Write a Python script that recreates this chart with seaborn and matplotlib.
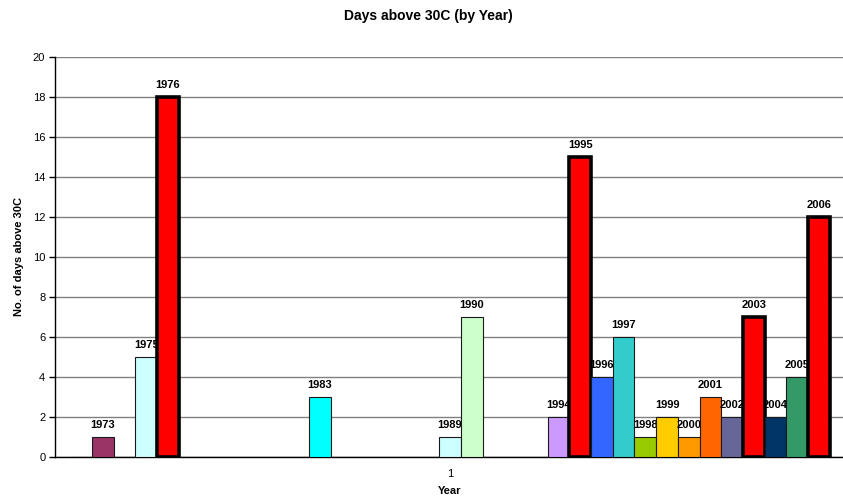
import matplotlib
matplotlib.use("Agg")
import matplotlib.pyplot as plt
import seaborn as sns
import pandas as pd

# Yearly counts of days above 30C, one series per year in a single category
years = [str(y) for y in range(1972, 2007)]
days = [0, 1, 0, 5, 18, 0, 0, 0, 0, 0, 0, 3, 0, 0, 0, 0, 0, 1, 7, 0,
        0, 0, 2, 15, 4, 6, 1, 2, 1, 3, 2, 7, 2, 4, 12]
category = ["1"] * len(years)

# Default spreadsheet series fill colours; the hottest summers are highlighted red
series_colors = ["#9999FF", "#993366", "#FFFFCC", "#CCFFFF", "#660066", "#FF8080",
                 "#0066CC", "#CCCCFF", "#000080", "#FF00FF", "#FFFF00", "#00FFFF",
                 "#800080", "#800000", "#008080", "#0000FF", "#00CCFF", "#CCFFFF",
                 "#CCFFCC", "#FFFF99", "#99CCFF", "#FF99CC", "#CC99FF", "#FFCC99",
                 "#3366FF", "#33CCCC", "#99CC00", "#FFCC00", "#FF9900", "#FF6600",
                 "#666699", "#969696", "#003366", "#339966", "#003300"]
highlight_years = ["1976", "1995", "2003", "2006"]

df = pd.DataFrame({"cat": category, "Year": years, "days": days})
palette = {y: ("#FF0000" if y in highlight_years else c) for y, c in zip(years, series_colors)}

sns.set_style("white")
plt.rcParams["font.family"] = ["Liberation Sans", "DejaVu Sans"]
plt.rcParams["text.color"] = "black"
plt.rcParams["xtick.color"] = "black"
plt.rcParams["ytick.color"] = "black"
plt.rcParams["axes.labelcolor"] = "black"

fig = plt.figure(figsize=(8.43, 4.99), dpi=100)
ax = fig.add_axes([55 / 843, 42 / 499, 790 / 843, 400 / 499])

sns.barplot(data=df, x="cat", y="days", hue="Year", hue_order=years,
            palette=palette, width=0.9615, gap=0, saturation=1,
            edgecolor="#1a1a1a", linewidth=0.8, legend=False, ax=ax,
            errorbar=None)

for i, (container, year, val) in enumerate(zip(ax.containers, years, days)):
    for bar in container:
        bar.set_zorder(3 + i)
        if year in highlight_years:
            bar.set_edgecolor("black")
            bar.set_linewidth(2.6)
        if val > 0:
            ax.annotate(year, (bar.get_x() + bar.get_width() / 2, val),
                        xytext=(0, 5), textcoords="offset points",
                        ha="center", va="bottom", fontsize=8, fontweight="bold",
                        color="black", zorder=3.5 + i)

ax.set_xlim(-0.5, 0.5)
ax.set_ylim(0, 20)
ax.set_yticks(range(0, 21, 2))
ax.yaxis.grid(True, color="#808080", linewidth=1)
ax.set_axisbelow(True)
for side in ["top", "right"]:
    ax.spines[side].set_visible(False)
ax.spines["left"].set_color("black")
ax.spines["bottom"].set_color("black")
ax.spines["left"].set_linewidth(1)
ax.spines["bottom"].set_linewidth(1)
ax.tick_params(axis="y", which="major", left=True, length=4, width=1,
               color="black", labelcolor="black", labelsize=8, pad=3)
ax.tick_params(axis="x", bottom=False, labelcolor="black", labelsize=8, pad=5)
ax.set_xlabel("")
ax.set_ylabel("")

fig.text(19 / 843, 1 - 257 / 499, "No. of days above 30C", rotation=90,
         ha="center", va="center", fontsize=8, fontweight="bold", color="black")
fig.text(450 / 843, 1 - 491 / 499, "Year", ha="center", va="center",
         fontsize=8, fontweight="bold", color="black")
fig.text(428 / 843, 1 - 16 / 499, "Days above 30C (by Year)", ha="center",
         va="center", fontsize=10, fontweight="bold", color="black")

fig.savefig("out.png", dpi=100)
